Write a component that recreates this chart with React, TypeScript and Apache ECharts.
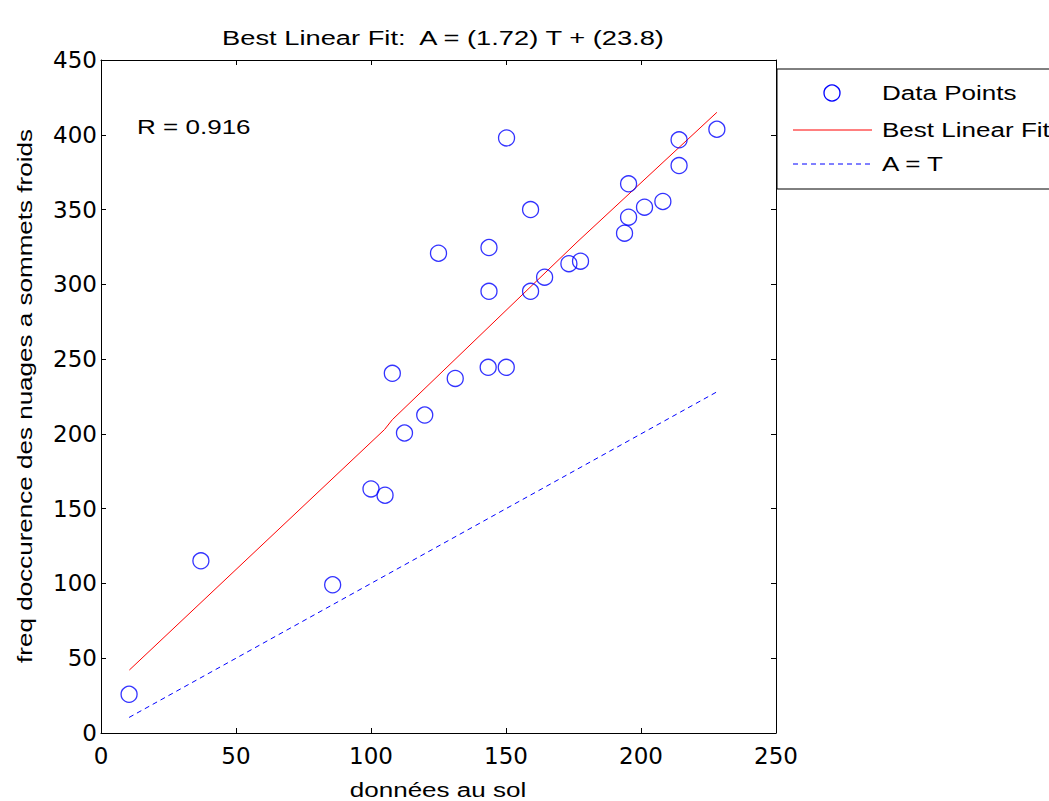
import React, { useEffect, useRef } from "react";
import * as echarts from "echarts";

// Ground data (T) and cloud occurrence frequency (A)
const groundX = [10.4, 37.0, 85.8, 100.0, 105.2, 107.9, 112.4, 119.9, 125.0, 131.2, 143.7, 143.7, 143.4, 150.1, 150.2, 159.1, 159.1, 164.3, 173.3, 177.6, 193.9, 195.4, 195.4, 201.3, 208.1, 214.1, 214.1, 228.1];
const freqY = [25.9, 115.1, 99.1, 163.2, 159.0, 240.5, 200.6, 212.6, 320.8, 237.1, 324.6, 295.3, 244.5, 244.5, 397.9, 350.0, 295.3, 304.8, 313.8, 315.5, 334.2, 367.2, 344.9, 351.6, 355.4, 396.6, 379.4, 403.7];

// Best linear fit line (as drawn)
const fitX = [10.5, 105.0, 107.9, 176.3, 228.1];
const fitY = [42.1, 202.9, 209.5, 328.2, 415.0];

// A = T line
const identX = [10.4, 228.1];
const identY = [10.4, 228.1];

const xTicks = [0, 50, 100, 150, 200, 250];
const yTicks = [0, 50, 100, 150, 200, 250, 300, 350, 400, 450];

const titleText = "Best Linear Fit:  A = (1.72) T + (23.8)";
const xName = "données au sol";
const yName = "freq doccurence des nuages a sommets froids";
const rText = "R = 0.916";
const legendNames = ["Data Points", "Best Linear Fit", "A = T"];

const FONT = "Liberation Sans, Arial, sans-serif";
const TICKFONT = "DejaVu Sans, sans-serif";
const SX = 1.24;

export default function App() {
  const ref = useRef<HTMLDivElement>(null);
  useEffect(() => {
    if (!ref.current) return;
    const chart = echarts.init(ref.current, null, { renderer: "svg" });
    const xMin = xTicks[0];
    const xMax = xTicks[xTicks.length - 1];
    const xInt = xTicks[1] - xTicks[0];
    const yMin = yTicks[0];
    const yMax = yTicks[yTicks.length - 1];
    const yInt = yTicks[1] - yTicks[0];
    const axisCommon = {
      type: "value" as const,
      axisLine: { show: true, onZero: false, lineStyle: { color: "#000", width: 1 } },
      axisTick: { show: true, inside: true, length: 5, lineStyle: { color: "#000", width: 1 } },
      splitLine: { show: false },
    };
    const txt = (text: string, x: number, y: number, align: string, extra: any = {}, sx: number = SX) => ({
      type: "text",
      x,
      y,
      scaleX: sx,
      ...extra,
      style: {
        text,
        font: `21px ${FONT}`,
        fill: "#000",
        align,
        verticalAlign: "middle",
      },
    });
    chart.setOption({
      animation: false,
      backgroundColor: "#fff",
      grid: { left: 101, right: 273, top: 60, bottom: 68, show: false },
      xAxis: [
        {
          ...axisCommon,
          min: xMin,
          max: xMax,
          interval: xInt,
          position: "bottom",
          axisLabel: { color: "#000", fontFamily: TICKFONT, fontSize: 23, margin: 11 },
        },
        {
          ...axisCommon,
          min: xMin,
          max: xMax,
          interval: xInt,
          position: "top",
          axisLabel: { show: false },
        },
      ],
      yAxis: [
        {
          ...axisCommon,
          min: yMin,
          max: yMax,
          interval: yInt,
          position: "left",
          axisLabel: { color: "#000", fontFamily: TICKFONT, fontSize: 23, margin: 4 },
        },
        {
          ...axisCommon,
          min: yMin,
          max: yMax,
          interval: yInt,
          position: "right",
          axisLabel: { show: false },
        },
      ],
      series: [
        {
          name: legendNames[0],
          type: "scatter",
          xAxisIndex: 0,
          yAxisIndex: 0,
          symbol: "circle",
          symbolSize: 16,
          itemStyle: { color: "rgba(0,0,0,0)", borderColor: "#0000ff", borderWidth: 1.3 },
          data: groundX.map((x, i) => [x, freqY[i]]),
          z: 3,
        },
        {
          name: legendNames[1],
          type: "line",
          xAxisIndex: 0,
          yAxisIndex: 0,
          symbol: "none",
          lineStyle: { color: "#ff0000", width: 1 },
          data: fitX.map((x, i) => [x, fitY[i]]),
          z: 2,
        },
        {
          name: legendNames[2],
          type: "line",
          xAxisIndex: 0,
          yAxisIndex: 0,
          symbol: "none",
          lineStyle: { color: "#0000ff", width: 1, type: [5, 4] },
          data: identX.map((x, i) => [x, identY[i]]),
          z: 2,
        },
      ],
      graphic: [
        txt(titleText, 443, 38, "center", {}, 1.3),
        txt(xName, 438, 790, "center"),
        txt(yName, 25, 396, "center", { rotation: Math.PI / 2 }),
        txt(rText, 137, 127, "left"),
        {
          type: "rect",
          shape: { x: 777, y: 69, width: 300, height: 120 },
          style: { fill: "#fff", stroke: "#000", lineWidth: 1 },
          z: 10,
        },
        {
          type: "circle",
          shape: { cx: 832, cy: 93, r: 8 },
          style: { fill: "none", stroke: "#0000ff", lineWidth: 1.3 },
          z: 11,
        },
        {
          type: "line",
          shape: { x1: 793, y1: 130, x2: 872, y2: 130 },
          style: { stroke: "#ff0000", lineWidth: 1 },
          z: 11,
        },
        {
          type: "line",
          shape: { x1: 793, y1: 164, x2: 872, y2: 164 },
          style: { stroke: "#0000ff", lineWidth: 1, lineDash: [5, 4] },
          z: 11,
        },
        { ...txt(legendNames[0], 882, 93, "left"), z: 11 },
        { ...txt(legendNames[1], 882, 130, "left"), z: 11 },
        { ...txt(legendNames[2], 882, 164, "left"), z: 11 },
      ],
    });
    return () => chart.dispose();
  }, []);
  return (
    <div
      ref={ref}
      style={{ position: "fixed", left: 0, top: 0, width: 1049, height: 801, background: "#fff" }}
    />
  );
}
